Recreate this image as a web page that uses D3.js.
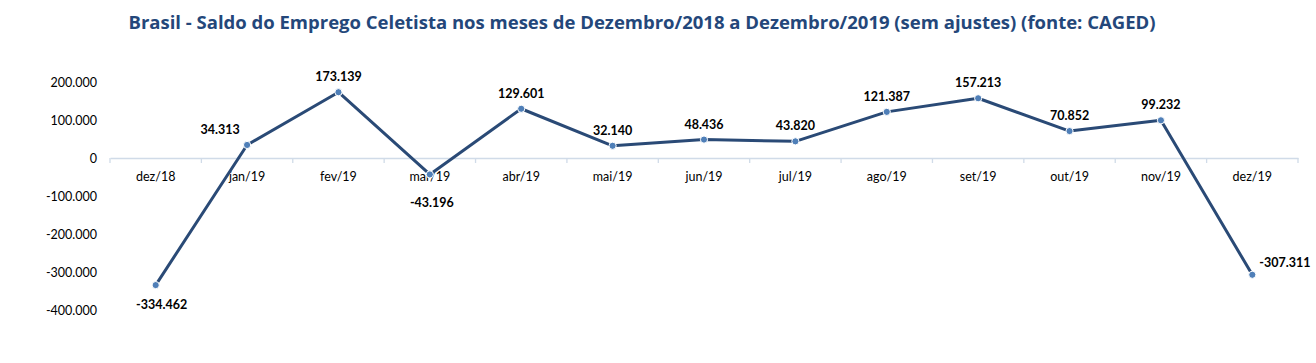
<!DOCTYPE html>
<html lang="pt">
<head>
  <meta charset="UTF-8" />
  <script src="https://d3js.org/d3.v7.min.js"></script>
  <style>
    body { margin: 0; background: #fff; overflow: hidden; }
    svg { display: block; }
    text { font-family: Lato, "Open Sans", sans-serif; }
  </style>
</head>
<body>
  <svg width="1316" height="363"></svg>
  <script>
    const months = ["dez/18", "jan/19", "fev/19", "mar/19", "abr/19", "mai/19", "jun/19",
      "jul/19", "ago/19", "set/19", "out/19", "nov/19", "dez/19"];
    const saldo = [-334462, 34313, 173139, -43196, 129601, 32140, 48436,
      43820, 121387, 157213, 70852, 99232, -307311];
    const yTicks = [-400000, -300000, -200000, -100000, 0, 100000, 200000];
    // where each value label sits relative to its point
    const labelSide = ["belowright", "upleft", "above", "below", "above", "above", "above",
      "above", "above", "above", "above", "above", "right"];

    const svg = d3.select("svg");
    const navy = "#2a4a76";

    svg.append("text")
      .attr("x", 642).attr("y", 29)
      .attr("text-anchor", "middle")
      .style("font-family", "'Open Sans', sans-serif")
      .attr("font-size", 18.5).attr("font-weight", "bold")
      .attr("fill", "#24477a")
      .text("Brasil - Saldo do Emprego Celetista nos meses de Dezembro/2018 a Dezembro/2019 (sem ajustes) (fonte: CAGED)");

    const x = d3.scaleBand().domain(months).range([110, 1298]);
    const y = d3.scaleLinear().domain([-400000, 200000]).range([310, 82]);

    const fmt = v => d3.format(",")(v).replace(/,/g, ".").replace("\u2212", "-");

    // y axis labels
    svg.append("g").selectAll("text")
      .data(yTicks)
      .join("text")
      .attr("x", 97).attr("y", d => y(d) + 4.5)
      .attr("text-anchor", "end")
      .attr("font-size", 12.5).attr("fill", "#000")
      .text(fmt);

    // zero axis with ticks
    const xAxis = svg.append("g")
      .attr("transform", `translate(0,${y(0)})`)
      .call(d3.axisBottom(x).tickSizeOuter(0).tickSizeInner(0).tickPadding(14));
    xAxis.select(".domain").attr("stroke", "#d0dbe8").attr("stroke-width", 1.3);
    xAxis.selectAll(".tick text")
      .attr("font-size", 12.5).attr("fill", "#000");
    xAxis.append("g").selectAll("line")
      .data(months.concat([null]))
      .join("line")
      .attr("x1", (d, i) => i < months.length ? x(d) : x.range()[1])
      .attr("x2", (d, i) => i < months.length ? x(d) : x.range()[1])
      .attr("y1", 0).attr("y2", 5)
      .attr("stroke", "#d0dbe8").attr("stroke-width", 1.3);

    const cx = d => x(d) + x.bandwidth() / 2;
    const pts = months.map((m, i) => ({ m, v: saldo[i], side: labelSide[i] }));

    svg.append("path")
      .datum(pts)
      .attr("fill", "none")
      .attr("stroke", navy)
      .attr("stroke-width", 3)
      .attr("stroke-linejoin", "round")
      .attr("d", d3.line().x(d => cx(d.m)).y(d => y(d.v)));

    svg.append("g").selectAll("circle")
      .data(pts)
      .join("circle")
      .attr("cx", d => cx(d.m)).attr("cy", d => y(d.v))
      .attr("r", 3.6)
      .attr("fill", "#4f7fb8")
      .attr("stroke", "#fff").attr("stroke-width", 1);

    const dx = { right: 7, upleft: -27, belowright: 6, below: 2, above: 0 };
    const dy = { right: -8, upleft: -11, belowright: 24, below: 33, above: -11 };
    svg.append("g").selectAll("text")
      .data(pts)
      .join("text")
      .attr("x", d => cx(d.m) + dx[d.side])
      .attr("y", d => y(d.v) + dy[d.side])
      .attr("text-anchor", d => d.side === "right" ? "start" : "middle")
      .attr("font-size", 12.5).attr("font-weight", "bold").attr("fill", "#000")
      .text(d => fmt(d.v));
  </script>
</body>
</html>
